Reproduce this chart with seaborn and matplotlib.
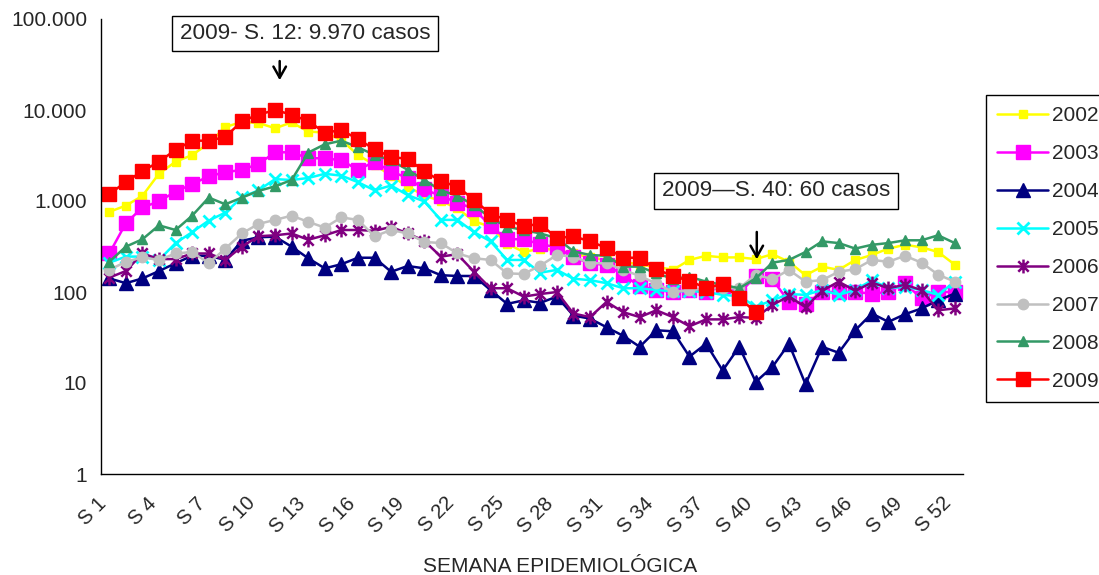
import numpy as np
import matplotlib
matplotlib.use("Agg")
import matplotlib.pyplot as plt
import seaborn as sns
from matplotlib.path import Path
from matplotlib.transforms import ScaledTranslation

# Semanas epidemiológicas y casos por año
semanas = [f"S {n}" for n in range(1, 53)]
anios = ["2002", "2003", "2004", "2005", "2006", "2007", "2008", "2009"]

s2002 = [760, 890, 1140, 2000, 2700, 3200, 4300, 6500, 7400, 7200, 6300, 7300, 5800, 5650, 4700,
         3200, 2500, 1900, 1440, 1150, 1000, 830, 600, 520, 340, 275, 300, 290, 265, 240, 225,
         215, 200, 190, 175, 225, 250, 240, 240, 230, 260, 215, 153, 190, 175, 225, 255, 300,
         330, 310, 275, 200]
s2003 = [265, 570, 850, 990, 1270, 1530, 1870, 2070, 2200, 2550, 3430, 3430, 2950, 2950, 2800,
         2200, 2700, 2100, 1800, 1340, 1140, 960, 820, 530, 380, 380, 335, 310, 240, 207, 198,
         154, 116, 105, 100, 105, 100, 116, 96, 150, 138, 78, 74, 100, 100, 100, 96, 100, 124,
         85, 100, 100]
s2004 = [141, 125, 141, 170, 207, 250, 250, 225, 365, 400, 405, 315, 235, 182, 202, 238, 238,
         167, 193, 182, 153, 150, 150, 105, 74, 81, 76, 89, 55, 51, 41, 33, 25, 38, 37, 19.5,
         27, 13.7, 25, 10.3, 15, 27, 9.7, 25, 21.5, 38, 58, 47, 57, 66, 81, 96]
s2005 = [210, 245, 245, 225, 345, 455, 610, 745, 1100, 1310, 1740, 1700, 1790, 1990, 1900,
         1610, 1310, 1480, 1160, 990, 620, 620, 455, 360, 225, 225, 163, 175, 140, 135, 125,
         110, 110, 105, 102, 102, 100, 93, 90, 69, 81, 95, 93, 105, 93, 105, 135, 110, 114,
         105, 93, 130]
s2006 = [144, 170, 265, 230, 230, 265, 265, 225, 315, 410, 420, 440, 375, 420, 480, 480, 470,
         520, 440, 365, 245, 260, 167, 110, 110, 89, 95, 100, 58, 53, 78, 60, 53, 63, 53, 42,
         50, 50, 53, 52, 72, 90, 68, 103, 130, 103, 127, 110, 120, 105, 63, 66]
s2007 = [175, 215, 240, 225, 265, 275, 207, 300, 440, 560, 620, 690, 590, 510, 660, 620, 410,
         480, 440, 355, 345, 265, 235, 225, 160, 158, 195, 255, 245, 207, 207, 175, 150, 124,
         100, 105, 110, 110, 110, 155, 138, 175, 130, 135, 167, 178, 225, 215, 250, 210, 155,
         130]
s2008 = [215, 315, 380, 540, 480, 690, 1090, 920, 1090, 1290, 1450, 1700, 3400, 4200, 4600,
         3900, 3200, 2800, 2200, 1700, 1310, 1140, 900, 650, 520, 480, 440, 390, 280, 255, 250,
         190, 190, 160, 140, 147, 130, 120, 110, 141, 210, 225, 275, 360, 345, 300, 330, 345,
         370, 370, 420, 345]
s2009 = [1190, 1620, 2130, 2700, 3650, 4600, 4600, 5060, 7530, 8900, 9970, 8900, 7530, 5650,
         6000, 4800, 3700, 3050, 2900, 2130, 1650, 1440, 1030, 720, 620, 530, 560, 390, 410,
         360, 305, 238, 238, 178, 150, 132, 111, 122, 86, 60]

series = [s2002, s2003, s2004, s2005, s2006, s2007, s2008, s2009]

y_ticks = [1, 10, 100, 1000, 10000, 100000]
y_labels = ["1", "10", "100", "1.000", "10.000", "100.000"]

sns.set_style("white")
plt.rcParams["font.family"] = ["Liberation Sans", "DejaVu Sans"]

fig = plt.figure(figsize=(10.99, 5.75), dpi=100)
ax = fig.add_axes([101 / 1099, 1 - 474 / 575, 862 / 1099, 455 / 575])

# asterisco tipo Excel: vertical + X
asterisco = Path([(0, -1), (0, 1), (-0.75, -0.75), (0.75, 0.75), (-0.75, 0.75), (0.75, -0.75)],
                 [Path.MOVETO, Path.LINETO] * 3)

estilos = {
    "2002": dict(color="#FFFF00", marker="s", ms=6, fc="#FFFF00", mew=1),
    "2003": dict(color="#FF00FF", marker="s", ms=10.5, fc="#FF00FF", mew=1),
    "2004": dict(color="#000080", marker="^", ms=10, fc="#000080", mew=1),
    "2005": dict(color="#00FFFF", marker="x", ms=9, fc="none", mew=2),
    "2006": dict(color="#800080", marker=asterisco, ms=10, fc="none", mew=1.8),
    "2007": dict(color="#C0C0C0", marker="o", ms=7.5, fc="#C0C0C0", mew=1),
    "2008": dict(color="#339966", marker="^", ms=7.5, fc="#339966", mew=1),
    "2009": dict(color="#FF0000", marker="s", ms=10, fc="#FF0000", mew=1),
}

for anio, valores in zip(anios, series):
    st = estilos[anio]
    sns.lineplot(x=np.arange(len(valores)), y=valores, ax=ax, color=st["color"],
                 marker=st["marker"], markersize=st["ms"], markerfacecolor=st["fc"],
                 markeredgecolor=st["color"], markeredgewidth=st["mew"], linewidth=1.8,
                 label=anio)

ax.set_yscale("log")
ax.set_ylim(1, 100000)
ax.set_yticks(y_ticks)
ax.set_yticklabels(y_labels)
ax.yaxis.set_minor_locator(matplotlib.ticker.NullLocator())
ax.tick_params(axis="y", length=5, width=1, pad=5, labelsize=15, direction="out", color="black")

ax.set_xlim(-0.5, len(semanas) - 0.5)
ax.set_xticks(np.arange(-0.5, len(semanas), 1))
ax.set_xticks(np.arange(0, len(semanas), 3), minor=True)
ax.set_xticklabels(semanas[::3], minor=True, rotation=45, ha="right", va="center",
                   rotation_mode="anchor", fontsize=14.5)
ax.tick_params(axis="x", which="major", length=5, width=1, direction="out", labelbottom=False,
               color="black")
ax.tick_params(axis="x", which="minor", length=0, pad=19)
for lab in ax.get_xticklabels(minor=True):
    lab.set_transform(lab.get_transform() + ScaledTranslation(-6 / 100, 0, fig.dpi_scale_trans))

ax.set_xlabel("")
ax.set_ylabel("")
ax.grid(False)
for side in ["top", "right"]:
    ax.spines[side].set_visible(False)
for side in ["left", "bottom"]:
    ax.spines[side].set_color("black")
    ax.spines[side].set_linewidth(1)

fig.text(560 / 1099, 1 - 566 / 575, "SEMANA EPIDEMIOLÓGICA", ha="center", va="center",
         fontsize=15)

# leyenda (recortada por el borde derecho, como en el original)
handles, labels = ax.get_legend_handles_labels()
leg = ax.legend(handles, labels, loc="upper left", bbox_to_anchor=(986 / 1099, 1 - 95 / 575),
                bbox_transform=fig.transFigure, frameon=True, fancybox=False, edgecolor="black",
                framealpha=1, fontsize=15, handlelength=2.45, handletextpad=0.2,
                labelspacing=0.91, borderpad=0.53, borderaxespad=0)
leg.get_frame().set_linewidth(1)

# anotaciones
caja = dict(boxstyle="square,pad=0.33", fc="white", ec="black", lw=1)
fig.text(305 / 1099, 1 - 33.5 / 575, "2009- S. 12: 9.970 casos", ha="center", va="center",
         fontsize=16.2, bbox=caja)
fig.text(776 / 1099, 1 - 191 / 575, "2009\u2014S. 40: 60 casos", ha="center", va="center",
         fontsize=16.2, bbox=caja)
flecha = dict(arrowstyle="->,head_length=0.8,head_width=0.45", color="black", lw=1.8)
ax.annotate("", xy=(10.28, 19800), xytext=(10.28, 37000), arrowprops=flecha)
ax.annotate("", xy=(39.06, 213), xytext=(39.06, 490), arrowprops=flecha)

fig.savefig("out.png", dpi=100)
